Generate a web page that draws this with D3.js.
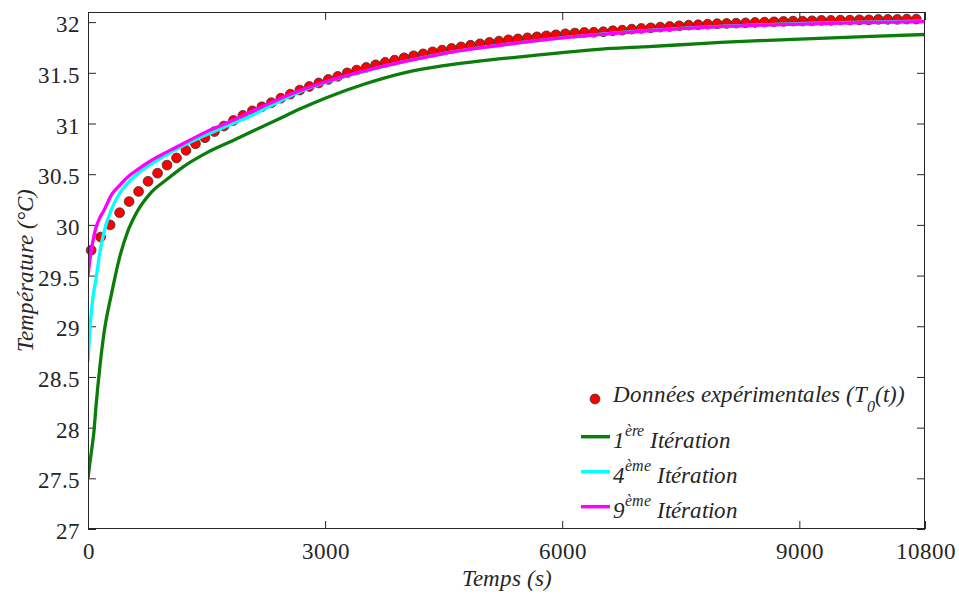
<!DOCTYPE html>
<html><head><meta charset="utf-8">
<script src="https://cdn.jsdelivr.net/npm/d3@7"></script>
<style>
@font-face{font-family:"ChartSerif";src:local("Liberation Serif"),local("LiberationSerif");font-style:normal;}
@font-face{font-family:"ChartSerif";src:local("Liberation Serif Italic"),local("LiberationSerif-Italic");font-style:italic;}
html,body{margin:0;padding:0;background:#fff;}
svg{display:block;}
</style></head>
<body>
<svg id="chart" width="959" height="596" font-family="Liberation Serif" style="font-family:'Liberation Serif'"></svg>
<script>
// ---- data ----
const expTime = [40,160,280,400,520,640,760,880,1000,1120,1240,1360,1480,1600,1720,1840,1960,2080,2200,2320,2440,2560,2680,2800,2920,3040,3160,3280,3400,3520,3640,3760,3880,4000,4120,4240,4360,4480,4600,4720,4840,4960,5080,5200,5320,5440,5560,5680,5800,5920,6040,6160,6280,6400,6520,6640,6760,6880,7000,7120,7240,7360,7480,7600,7720,7840,7960,8080,8200,8320,8440,8560,8680,8800,8920,9040,9160,9280,9400,9520,9640,9760,9880,10000,10120,10240,10360,10480];
const expTemp = [29.75,29.88,30.00,30.12,30.23,30.33,30.43,30.51,30.59,30.66,30.735,30.80,30.86,30.92,30.975,31.03,31.08,31.125,31.165,31.205,31.25,31.29,31.33,31.365,31.40,31.435,31.465,31.50,31.527,31.553,31.579,31.603,31.625,31.648,31.668,31.687,31.707,31.724,31.74,31.756,31.772,31.786,31.80,31.813,31.826,31.835,31.845,31.855,31.865,31.875,31.885,31.892,31.898,31.90,31.905,31.915,31.921,31.931,31.938,31.944,31.951,31.957,31.964,31.970,31.974,31.980,31.984,31.987,31.990,31.993,31.997,32.00,32.003,32.007,32.01,32.01,32.013,32.017,32.017,32.02,32.02,32.023,32.023,32.027,32.027,32.027,32.03,32.03];

const lineTime = [0,25,50,75,100,150,200,300,400,500,600,800,1000,1200,1500,1800,2100,2400,2700,3000,3500,4000,4500,5000,5500,6000,6500,7000,7500,8000,8500,9000,9500,10000,10590];
const iter1 = [27.50,27.66,27.80,27.96,28.20,28.60,28.92,29.33,29.68,29.93,30.10,30.32,30.45,30.57,30.71,30.82,30.93,31.04,31.15,31.25,31.39,31.50,31.57,31.62,31.66,31.70,31.734,31.755,31.777,31.80,31.817,31.833,31.848,31.862,31.878];
const iter4 = [28.65,28.98,29.20,29.35,29.46,29.73,29.92,30.16,30.31,30.41,30.485,30.60,30.695,30.78,30.89,30.99,31.09,31.21,31.32,31.405,31.515,31.61,31.69,31.75,31.80,31.845,31.882,31.913,31.938,31.958,31.973,31.984,31.994,32.002,32.01];
const iter9 = [29.50,29.66,29.79,29.89,29.97,30.07,30.14,30.30,30.39,30.47,30.53,30.635,30.72,30.80,30.92,31.02,31.13,31.235,31.33,31.41,31.52,31.61,31.69,31.75,31.80,31.845,31.88,31.91,31.935,31.955,31.97,31.98,31.99,31.998,32.005];

const xTickValues = [0,3000,6000,9000,10590];
const xTickLabels = ["0","3000","6000","9000","10800"];
const yTickValues = [27,27.5,28,28.5,29,29.5,30,30.5,31,31.5,32];
const yTickLabels = ["27","27.5","28","28.5","29","29.5","30","30.5","31","31.5","32"];

const seriesNames = ["Données expérimentales", "1", "4", "9"];
const seriesColors = {exp:"#ff0000", i1:"#0b7d0b", i4:"#00ffff", i9:"#ff00ff"};

// ---- layout ----
const svg = d3.select("#chart");
const L = 88, R = 925, T = 12, B = 529;
const x = d3.scaleLinear().domain([0, 10590]).range([L, R]);
const y = d3.scaleLinear().domain([27, 32.1]).range([B, T]);
const FS = 23;
const FF = "Liberation Serif";
const TC = "#262626";

svg.append("rect").attr("width",959).attr("height",596).attr("fill","#fff");

// axes
const gx = svg.append("g").attr("transform",`translate(0,${B})`)
  .call(d3.axisBottom(x).tickValues(xTickValues).tickFormat((d,i)=>xTickLabels[i]).tickSize(-8).tickPadding(14));
const gy = svg.append("g").attr("transform",`translate(${L},0)`)
  .call(d3.axisLeft(y).tickValues(yTickValues).tickFormat((d,i)=>yTickLabels[i]).tickSize(-8).tickPadding(8));
const gt = svg.append("g").attr("transform",`translate(0,${T})`)
  .call(d3.axisTop(x).tickValues(xTickValues).tickFormat("").tickSize(-8));
const gr = svg.append("g").attr("transform",`translate(${R},0)`)
  .call(d3.axisRight(y).tickValues(yTickValues).tickFormat("").tickSize(-8));
[gx,gy,gt,gr].forEach(g=>{
  g.attr("font-family",null).attr("font-size",FS);
  g.select(".domain").remove();
  g.selectAll(".tick line").attr("stroke",TC).attr("stroke-width",1);
  g.selectAll(".tick text").attr("font-size",FS).attr("fill",TC);
});
gy.selectAll(".tick text").attr("dy","0.42em");

const clip = svg.append("clipPath").attr("id","clip").append("rect")
  .attr("x",L).attr("y",T).attr("width",R-L).attr("height",B-T);

// data points (drawn under the lines)
svg.append("g").selectAll("circle").data(expTime).join("circle")
  .attr("cx",(d)=>x(d)).attr("cy",(d,i)=>y(expTemp[i])).attr("r",4.9)
  .attr("fill",seriesColors.exp).attr("stroke","#333").attr("stroke-width",0.8);

const line = d3.line().x((d)=>x(d[0])).y((d)=>y(d[1])).curve(d3.curveMonotoneX);
const gl = svg.append("g").attr("clip-path","url(#clip)");
[[iter1,seriesColors.i1],[iter4,seriesColors.i4],[iter9,seriesColors.i9]].forEach(([vals,col])=>{
  gl.append("path").datum(lineTime.map((t,i)=>[t,vals[i]]))
    .attr("d",line).attr("fill","none").attr("stroke",col).attr("stroke-width",3.3)
    .attr("stroke-linejoin","round");
});

// frame
svg.append("rect").attr("x",L+0.5).attr("y",T+0.5).attr("width",R-L-1).attr("height",B-T-1)
  .attr("fill","none").attr("stroke",TC).attr("stroke-width",1);

// axis titles
svg.append("text").attr("x",(L+R)/2).attr("y",586).attr("text-anchor","middle")
  .attr("fill",TC).attr("font-size",FS).attr("font-style","italic").text("Temps (s)");
svg.append("text").attr("transform",`translate(33,${(T+B)/2}) rotate(-90)`).attr("text-anchor","middle")
  .attr("fill",TC).attr("font-size",FS).attr("font-style","italic").text("Température (°C)");

// legend
const lg = svg.append("g");
lg.append("circle").attr("cx",595).attr("cy",399).attr("r",4.9)
  .attr("fill",seriesColors.exp).attr("stroke","#333").attr("stroke-width",0.8);
const t0 = lg.append("text").attr("x",613).attr("y",402).attr("fill",TC)
  .attr("font-size",FS).attr("font-style","italic");
t0.append("tspan").text(seriesNames[0] + " (T");
t0.append("tspan").attr("font-size",16).attr("dy",10).text("0");
t0.append("tspan").attr("dy",-10).text("(t))");

const rows = [
  {n:seriesNames[1], sup:"ère", col:seriesColors.i1, ly:436.7, by:448},
  {n:seriesNames[2], sup:"ème", col:seriesColors.i4, ly:471.7, by:483},
  {n:seriesNames[3], sup:"ème", col:seriesColors.i9, ly:506.7, by:518}
];
rows.forEach(r=>{
  lg.append("line").attr("x1",581).attr("x2",610).attr("y1",r.ly).attr("y2",r.ly)
    .attr("stroke",r.col).attr("stroke-width",3.5);
  const t = lg.append("text").attr("x",613).attr("y",r.by).attr("fill",TC)
    .attr("font-size",FS).attr("font-style","italic");
  t.append("tspan").text(r.n);
  t.append("tspan").attr("font-size",16).attr("dy",-12).text(r.sup);
  t.append("tspan").attr("dy",12).text(" Itération");
});

// serif font on every text element (aliased local face)
svg.selectAll("text").attr("font-family","ChartSerif")
  .each(function(){ this.style.setProperty("font-family", "ChartSerif", "important"); });
</script>
</body></html>
